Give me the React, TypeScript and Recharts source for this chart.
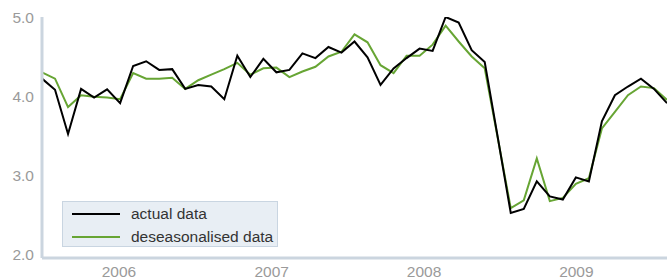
import React from 'react';
import { LineChart, Line, XAxis, YAxis } from 'recharts';

const actualData = [
  4.22, 4.08, 3.52, 4.09, 3.98, 4.085, 3.91, 4.38, 4.44, 4.33,
  4.34, 4.09, 4.14, 4.12, 3.96, 4.51, 4.24, 4.47, 4.30, 4.33,
  4.54, 4.48, 4.62, 4.55, 4.69, 4.49, 4.14, 4.35, 4.48, 4.60,
  4.57, 5.00, 4.93, 4.58, 4.43, 3.48, 2.52, 2.57, 2.92, 2.73,
  2.69, 2.97, 2.92, 3.68, 4.01, 4.12, 4.22, 4.09, 3.91,
];

const deseasonalisedData = [
  4.30, 4.22, 3.86, 4.01, 3.99, 3.98, 3.96, 4.29, 4.22, 4.22,
  4.23, 4.09, 4.20, 4.27, 4.34, 4.42, 4.27, 4.35, 4.36, 4.24,
  4.31, 4.37, 4.50, 4.56, 4.78, 4.68, 4.39, 4.29, 4.51, 4.51,
  4.65, 4.89, 4.69, 4.50, 4.35, 3.47, 2.58, 2.68, 3.21, 2.67,
  2.71, 2.89, 2.96, 3.59, 3.80, 4.01, 4.12, 4.10, 3.95,
];

const yearLabels = ['2006', '2007', '2008', '2009'];
const yearTickPositions = [5.91, 17.64, 29.34, 41.04];
const yTicks = [2, 3, 4, 5];

const tableData = actualData.map((v, i) => ({
  i,
  actual: v,
  deseasonalised: deseasonalisedData[i],
}));

const AXIS_COLOR = '#cbd5df';
const TICK_COLOR = '#9a9a9a';
const GREEN = '#67a534';
const FONT = '"Liberation Sans", Arial, Helvetica, sans-serif';

const legendItems = [
  { label: 'actual data', color: '#000', top: 12 },
  { label: 'deseasonalised data', color: GREEN, top: 35 },
];

const LegendBox = () => (
  <div
    style={{
      position: 'absolute',
      left: 62,
      top: 201,
      width: 214,
      height: 44,
      background: '#e8eef4',
      border: '1px solid #c9d5e1',
      fontFamily: FONT,
      fontSize: 15.5,
      color: '#333',
    }}
  >
    {legendItems.map((item) => (
      <div key={item.label}>
        <div
          style={{
            position: 'absolute',
            left: 9,
            top: item.top - 1,
            width: 48,
            height: 2,
            background: item.color,
          }}
        />
        <div
          style={{
            position: 'absolute',
            left: 68,
            top: item.top - 10,
            lineHeight: '20px',
            whiteSpace: 'nowrap',
          }}
        >
          {item.label}
        </div>
      </div>
    ))}
  </div>
);

export default function App() {
  return (
    <div style={{ position: 'absolute', left: 0, top: 0, width: 667, height: 280, background: '#fff' }}>
      <LineChart
        width={667}
        height={280}
        data={tableData}
        margin={{ top: 17, right: 0, bottom: 0, left: 0 }}
      >
        <XAxis
          dataKey="i"
          type="number"
          domain={[0, actualData.length - 1]}
          ticks={yearTickPositions}
          tickFormatter={(v: number) => yearLabels[yearTickPositions.indexOf(v)] ?? ''}
          tickLine={false}
          axisLine={{ stroke: AXIS_COLOR, strokeWidth: 3 }}
          tick={{ fill: TICK_COLOR, fontSize: 15.5, fontFamily: FONT }}
          tickMargin={2}
          height={22}
          interval={0}
        />
        <YAxis
          type="number"
          domain={[1.95, 5]}
          ticks={yTicks}
          tickFormatter={(v: number) => v.toFixed(1)}
          tickLine={false}
          axisLine={{ stroke: AXIS_COLOR, strokeWidth: 3 }}
          tick={{ fill: TICK_COLOR, fontSize: 15.5, fontFamily: FONT }}
          width={42}
          interval={0}
          allowDataOverflow
        />
        <Line
          type="linear"
          dataKey="deseasonalised"
          stroke={GREEN}
          strokeWidth={2}
          dot={false}
          isAnimationActive={false}
        />
        <Line
          type="linear"
          dataKey="actual"
          stroke="#000"
          strokeWidth={2}
          dot={false}
          isAnimationActive={false}
        />
      </LineChart>
      <LegendBox />
    </div>
  );
}
